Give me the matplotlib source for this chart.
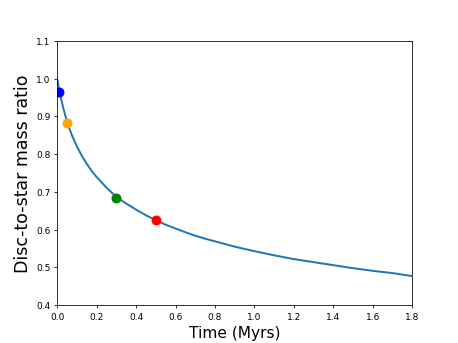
import matplotlib
matplotlib.use("Agg")
import matplotlib.pyplot as plt

# Disc-to-star mass ratio curve
time_myr = [0.0, 0.0025, 0.005, 0.01, 0.02, 0.03, 0.04, 0.05, 0.075, 0.1, 0.125, 0.15,
            0.175, 0.2, 0.25, 0.3, 0.35, 0.4, 0.45, 0.5, 0.55, 0.6, 0.65, 0.7, 0.75,
            0.8, 0.85, 0.9, 0.95, 1.0, 1.1, 1.2, 1.3, 1.4, 1.5, 1.6, 1.7, 1.8]
mass_ratio = [1.0, 0.992, 0.985, 0.968, 0.945, 0.923, 0.904, 0.884, 0.849, 0.820, 0.795, 0.774,
              0.755, 0.739, 0.711, 0.686, 0.669, 0.653, 0.638, 0.625, 0.613, 0.603, 0.593, 0.584, 0.576,
              0.569, 0.562, 0.555, 0.549, 0.543, 0.532, 0.522, 0.514, 0.506, 0.498, 0.491, 0.485, 0.477]

# highlighted snapshots
snap_times = [0.01, 0.05, 0.3, 0.5]
snap_ratio = [0.965, 0.881, 0.685, 0.625]
snap_colors = ['blue', 'orange', 'green', 'red']

fig = plt.figure(figsize=(6.4, 4.8), dpi=71.5625)
ax = fig.add_subplot(111)
ax.plot(time_myr, mass_ratio, color='#1f77b4', linewidth=2)
for t, m, c in zip(snap_times, snap_ratio, snap_colors):
    ax.plot(t, m, 'o', color=c, markersize=9)

ax.set_xlim(0, 1.8)
ax.set_ylim(0.4, 1.1)
ax.set_xlabel("Time (Myrs)", fontsize=15.5)
ax.set_ylabel("Disc-to-star mass ratio", fontsize=17.5)
ax.tick_params(labelsize=9)

fig.savefig("out.png", dpi=71.5625)
